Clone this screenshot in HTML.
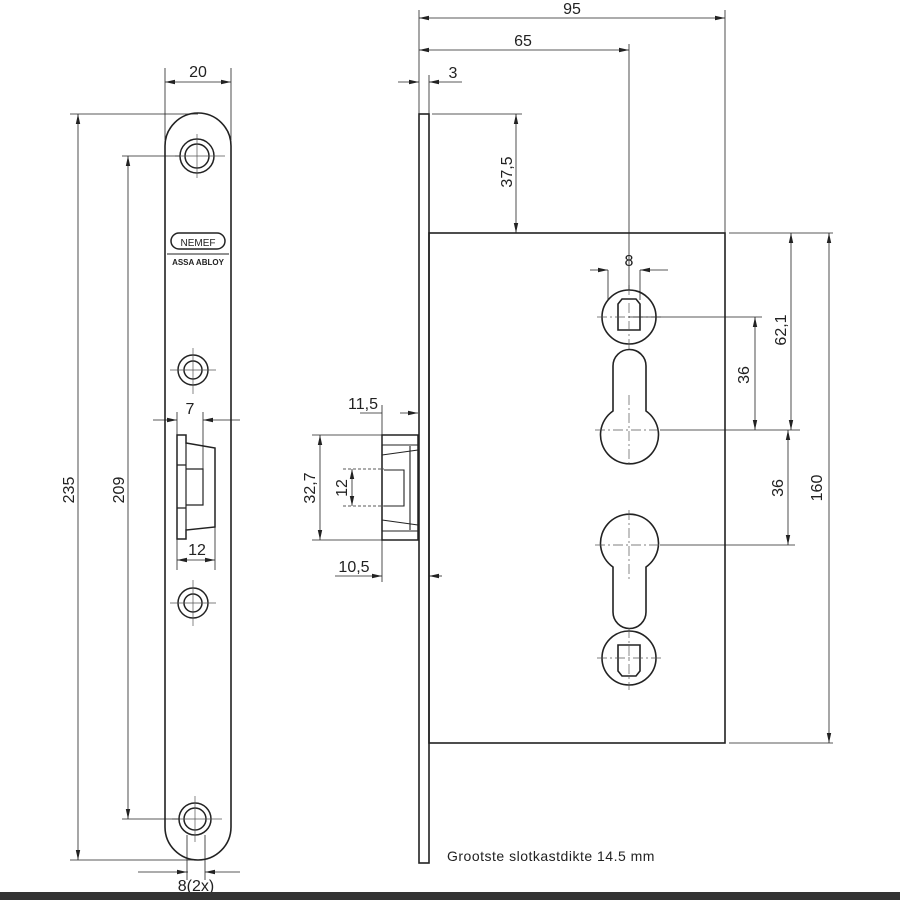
<!DOCTYPE html>
<html><head><meta charset="utf-8"><style>
html,body{margin:0;padding:0;background:#fff;}
svg{display:block;}
text{font-family:"Liberation Sans",sans-serif;fill:#222;}
</style></head><body>
<svg width="900" height="900" viewBox="0 0 900 900" xmlns="http://www.w3.org/2000/svg">
<defs>
<marker id="a" viewBox="0 0 10 6" refX="10" refY="3" markerWidth="10" markerHeight="6" orient="auto-start-reverse" markerUnits="userSpaceOnUse">
<path d="M0,0.8 L10,3 L0,5.2z" fill="#222"/></marker>
</defs>
<rect x="0" y="0" width="900" height="900" fill="#fff"/>
<g stroke="#222" fill="none">
<!-- LEFT PLATE -->
<path d="M165,146 A33,33 0 0 1 231,146 L231,827 A33,33 0 0 1 165,827 Z" stroke-width="1.6"/>
<g stroke-width="1.5">
<circle cx="197" cy="156" r="17"/><circle cx="197" cy="156" r="12"/>
<circle cx="193" cy="370" r="15"/><circle cx="193" cy="370" r="9"/>
<circle cx="193" cy="603" r="15"/><circle cx="193" cy="603" r="9"/>
<circle cx="195" cy="819" r="16"/><circle cx="195" cy="819" r="11"/>
</g>
<g stroke-width="0.7" stroke="#555">
<line x1="197" y1="134" x2="197" y2="178"/><line x1="175" y1="156" x2="225" y2="156"/>
<line x1="193" y1="348" x2="193" y2="394"/><line x1="170" y1="370" x2="216" y2="370"/>
<line x1="193" y1="580" x2="193" y2="626"/><line x1="170" y1="603" x2="216" y2="603"/>
<line x1="195" y1="796" x2="195" y2="842"/><line x1="172" y1="819" x2="222" y2="819"/>
</g>
<rect x="171" y="233" width="54" height="16" rx="8" stroke-width="1.5"/>
<line x1="167" y1="254" x2="229" y2="254" stroke-width="1"/>
<!-- latch left -->
<path d="M177,435 L186,435 L186,443 L215,448 L215,527 L186,530 L186,539 L177,539 Z" stroke-width="1.5"/>
<path d="M186,443 L186,530 M186,469 L203,469 L203,505 L186,505 M177,465 L186,465 M177,508 L186,508" stroke-width="1.2"/>
<!-- left dims -->
<g stroke-width="0.8">
<line x1="70" y1="114" x2="198" y2="114"/><line x1="70" y1="860" x2="198" y2="860"/>
<line x1="78" y1="114" x2="78" y2="860" marker-start="url(#a)" marker-end="url(#a)"/>
<line x1="122" y1="156" x2="180" y2="156"/><line x1="122" y1="819" x2="180" y2="819"/>
<line x1="128" y1="156" x2="128" y2="819" marker-start="url(#a)" marker-end="url(#a)"/>
<line x1="165" y1="68" x2="165" y2="140"/><line x1="231" y1="68" x2="231" y2="140"/>
<line x1="165" y1="82" x2="231" y2="82" marker-start="url(#a)" marker-end="url(#a)"/>
<line x1="153" y1="420" x2="177" y2="420" marker-end="url(#a)"/><line x1="240" y1="420" x2="203" y2="420" marker-end="url(#a)"/>
<line x1="177" y1="412" x2="177" y2="435"/><line x1="203" y1="412" x2="203" y2="469"/>
<line x1="177" y1="539" x2="177" y2="570"/><line x1="215" y1="527" x2="215" y2="570"/>
<line x1="177" y1="560" x2="215" y2="560" marker-start="url(#a)" marker-end="url(#a)"/>
<line x1="187" y1="835" x2="187" y2="880"/><line x1="205" y1="835" x2="205" y2="880"/>
<line x1="138" y1="872" x2="187" y2="872" marker-end="url(#a)"/><line x1="188" y1="872" x2="186" y2="872"/>
<line x1="240" y1="872" x2="205" y2="872" marker-end="url(#a)"/>
</g>
<!-- RIGHT VIEW -->
<rect x="419" y="114" width="10" height="749" stroke-width="1.6"/>
<rect x="429" y="233" width="296" height="510" stroke-width="1.6"/>
<!-- latch right -->
<path d="M382,435 L418,435 L418,540 L382,540 Z" stroke-width="1.5"/>
<path d="M382,445 L418,445 M382,531 L418,531 M382,445 L382,531 M410,446 L410,530 M384,470 L404,470 L404,506 L384,506 M382,455 L418,450 M382,520 L418,525" stroke-width="1.1"/>
<!-- lock holes -->
<g stroke-width="1.6">
<circle cx="629" cy="317" r="27"/>
<path d="M618,330 L618,304 L622,299 L636,299 L640,304 L640,330 Z"/>
<path d="M613,411 L613,366 A16.5,16.5 0 0 1 646,366 L646,411 A29,29 0 1 1 613,411 Z"/>
<path d="M613,567 L613,612 A16.5,16.5 0 0 0 646,612 L646,567 A29,29 0 1 0 613,567 Z"/>
<circle cx="629" cy="658" r="27"/>
<path d="M618,645 L618,671 L622,676 L636,676 L640,671 L640,645 Z"/>
</g>
<g stroke-width="0.7" stroke="#555" stroke-dasharray="10,3,2,3">
<line x1="629" y1="285" x2="629" y2="350"/><line x1="597" y1="317" x2="662" y2="317"/>
<line x1="629" y1="395" x2="629" y2="465"/><line x1="595" y1="430" x2="660" y2="430"/>
<line x1="629" y1="510" x2="629" y2="580"/><line x1="595" y1="545" x2="660" y2="545"/>
<line x1="629" y1="628" x2="629" y2="690"/><line x1="597" y1="658" x2="662" y2="658"/>
</g>
<g stroke-width="0.8">
<line x1="419" y1="10" x2="419" y2="114"/><line x1="725" y1="10" x2="725" y2="233"/>
<line x1="419" y1="18" x2="725" y2="18" marker-start="url(#a)" marker-end="url(#a)"/>
<line x1="629" y1="44" x2="629" y2="290"/>
<line x1="419" y1="50" x2="629" y2="50" marker-start="url(#a)" marker-end="url(#a)"/>
<line x1="429" y1="75" x2="429" y2="114"/>
<line x1="398" y1="82" x2="419" y2="82" marker-end="url(#a)"/><line x1="462" y1="82" x2="429" y2="82" marker-end="url(#a)"/>
<line x1="432" y1="114" x2="522" y2="114"/>
<line x1="516" y1="114" x2="516" y2="233" marker-start="url(#a)" marker-end="url(#a)"/>
<line x1="608" y1="270" x2="608" y2="300"/><line x1="640" y1="270" x2="640" y2="300"/>
<line x1="590" y1="270" x2="608" y2="270" marker-end="url(#a)"/><line x1="668" y1="270" x2="640" y2="270" marker-end="url(#a)"/>
<line x1="729" y1="233" x2="833" y2="233"/><line x1="729" y1="743" x2="833" y2="743"/>
<line x1="829" y1="233" x2="829" y2="743" marker-start="url(#a)" marker-end="url(#a)"/>
<line x1="629" y1="317" x2="762" y2="317"/>
<line x1="660" y1="430" x2="800" y2="430"/><line x1="660" y1="545" x2="795" y2="545"/>
<line x1="791" y1="233" x2="791" y2="430" marker-start="url(#a)" marker-end="url(#a)"/>
<line x1="755" y1="317" x2="755" y2="430" marker-start="url(#a)" marker-end="url(#a)"/>
<line x1="788" y1="430" x2="788" y2="545" marker-start="url(#a)" marker-end="url(#a)"/>
<line x1="382" y1="405" x2="382" y2="435"/>
<line x1="360" y1="413" x2="382" y2="413"/>
<line x1="400" y1="413" x2="418" y2="413" marker-end="url(#a)"/>
<line x1="312" y1="435" x2="382" y2="435"/><line x1="312" y1="540" x2="382" y2="540"/>
<line x1="320" y1="435" x2="320" y2="540" marker-start="url(#a)" marker-end="url(#a)"/>
<line x1="343" y1="469" x2="384" y2="469" stroke-dasharray="3,2"/><line x1="343" y1="506" x2="384" y2="506" stroke-dasharray="3,2"/>
<line x1="352" y1="469" x2="352" y2="506" marker-start="url(#a)" marker-end="url(#a)"/>
<line x1="382" y1="540" x2="382" y2="582"/>
<line x1="335" y1="576" x2="382" y2="576" marker-end="url(#a)"/>
<line x1="442" y1="576" x2="429" y2="576" marker-end="url(#a)"/>
</g>
</g>
<g font-size="16">
<text x="198" y="77" text-anchor="middle">20</text>
<text x="190" y="414" text-anchor="middle">7</text>
<text x="197" y="555" text-anchor="middle">12</text>
<text x="196" y="891" text-anchor="middle">8(2x)</text>
<text transform="translate(74,490) rotate(-90)" text-anchor="middle">235</text>
<text transform="translate(124,490) rotate(-90)" text-anchor="middle">209</text>
<text x="572" y="14" text-anchor="middle">95</text>
<text x="523" y="46" text-anchor="middle">65</text>
<text x="453" y="78" text-anchor="middle">3</text>
<text transform="translate(512,172) rotate(-90)" text-anchor="middle">37,5</text>
<text x="629" y="266" text-anchor="middle">8</text>
<text transform="translate(786,330) rotate(-90)" text-anchor="middle">62,1</text>
<text transform="translate(749,375) rotate(-90)" text-anchor="middle">36</text>
<text transform="translate(783,488) rotate(-90)" text-anchor="middle">36</text>
<text transform="translate(822,488) rotate(-90)" text-anchor="middle">160</text>
<text x="363" y="409" text-anchor="middle">11,5</text>
<text transform="translate(315,488) rotate(-90)" text-anchor="middle">32,7</text>
<text transform="translate(347,488) rotate(-90)" text-anchor="middle">12</text>
<text x="354" y="572" text-anchor="middle">10,5</text>
</g>
<text x="198" y="246" text-anchor="middle" font-size="10">NEMEF</text>
<text x="198" y="265" text-anchor="middle" font-size="8" font-weight="bold">ASSA ABLOY</text>
<text x="447" y="861" font-size="14" letter-spacing="0.5">Grootste slotkastdikte 14.5 mm</text>
<rect x="0" y="892" width="900" height="8" fill="#333"/>
</svg>
</body></html>
